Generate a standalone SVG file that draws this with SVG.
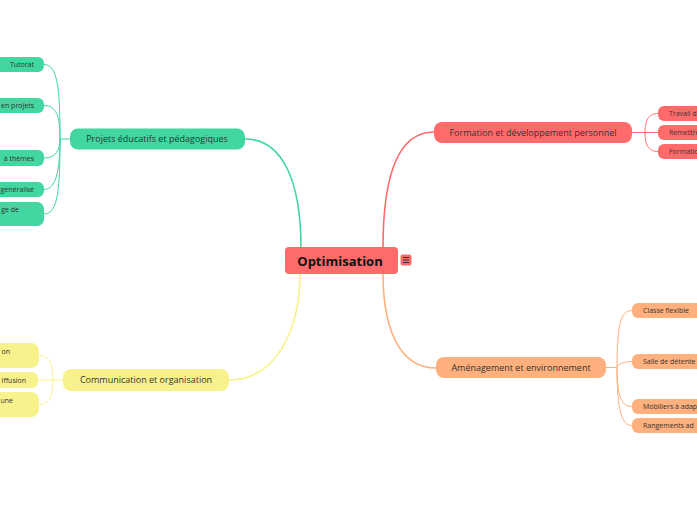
<svg xmlns="http://www.w3.org/2000/svg" width="697" height="520" viewBox="0 0 697 520">
<style>
text{font-family:"Open Sans","Noto Sans","Liberation Sans",sans-serif;fill:#333}
.main{font-size:9px;text-anchor:middle}
.sub{font-size:7px}
.end{text-anchor:end}
.g{fill:#42D6A1}.r{fill:#FF6B6B}.o{fill:#FFB07C}.y{fill:#F8F28C}
.cg,.cr,.co,.cy{fill:none}
.cg{stroke:#42D6A1}.cr{stroke:#FF6B6B}.co{stroke:#FFB07C}.cy{stroke:#F8F28C}
.thick{stroke-width:1.6}.thin{stroke-width:1}
</style>
<rect width="697" height="520" fill="#fff"/>
<g id="connectors">
<path class="cg thick" d="M245,139 C282,139 301,180 301,248"/>
<path class="cr thick" d="M434,132 C400,132 383,170 383,248"/>
<path class="cy thick" d="M229,380 C276,380 300,330 300,273"/>
<path class="co thick" d="M383,273 C383,330 400,368 436,368"/>
<path class="cg thin" d="M60,139 L70,139 M44,64.5 C58,64.5 60,90 60,139 M44,105.5 C56,105.5 60,115 60,139 M44,158 C56,158 60,150 60,139 M44,189.5 C56,189.5 60,170 60,139 M44,214 C58,214 60,190 60,139"/>
<path class="cy thin" d="M53,380 L63,380 M39,355.5 C50,355.5 53,365 53,380 M38,380 L53,380 M39,404.5 C50,404.5 53,395 53,380"/>
<path class="cr thin" d="M632,132.5 L645,132.5 M645,132.5 C645,118 650,113.5 658,113.5 M645,132.5 L658,132.5 M645,132.5 C645,147 650,151.5 658,151.5"/>
<path class="co thin" d="M606,367.5 L617,367.5 M617,367.5 C617,320 622,310.5 632,310.5 M617,367.5 C617,364 624,361.5 632,361.5 M617,367.5 C617,398 622,406.5 632,406.5 M617,367.5 C617,412 622,425.5 632,425.5"/>
</g>
<g id="center">
<rect x="285" y="247" width="113" height="27" rx="4" class="r"/>
<text x="340" y="266" style="font-size:13px;font-weight:bold;text-anchor:middle;fill:#111">Optimisation</text>
<rect x="400.5" y="254.5" width="11" height="11" rx="2" class="r"/>
<path d="M403,257.5 H409 M403,260 H409 M403,262.5 H409" stroke="#333" stroke-width="1" fill="none"/>
</g>
<g id="projets">
<rect x="70" y="128.5" width="175" height="21" rx="8" class="g"/>
<text x="157" y="142" class="main">Projets éducatifs et pédagogiques</text>
</g>
<g id="tutorat"><rect x="-20" y="57" width="64" height="15" rx="6" class="g"/><text x="34" y="67" class="sub end">Tutorat</text></g>
<g id="enprojets"><rect x="-20" y="98" width="64" height="15" rx="6" class="g"/><text x="34" y="108" class="sub end">en projets</text></g>
<g id="themes"><rect x="-20" y="150" width="64" height="16" rx="6" class="g"/><text x="34" y="160.5" class="sub end">à thèmes</text></g>
<g id="generalise"><rect x="-20" y="182" width="64" height="15" rx="6" class="g"/><text x="34" y="192" class="sub end">généralisé</text></g>
<g id="gede"><rect x="-20" y="202" width="64" height="24" rx="7" class="g"/><text x="19" y="212" class="sub end">ge de</text></g>
<g id="communication">
<rect x="63" y="369" width="166" height="22" rx="8" class="y"/>
<text x="146" y="383" class="main">Communication et organisation</text>
</g>
<g id="yon"><rect x="-20" y="343" width="59" height="25" rx="8" class="y"/><text x="10" y="353.5" class="sub end">on</text></g>
<g id="ydiffusion"><rect x="-20" y="372" width="58" height="16" rx="6" class="y"/><text x="26" y="382.5" class="sub end">iffusion</text></g>
<g id="yune"><rect x="-20" y="392" width="59" height="25" rx="8" class="y"/><text x="13" y="402.5" class="sub end">une</text></g>
<g id="formation">
<rect x="434" y="122" width="198" height="21" rx="8" class="r"/>
<text x="533" y="135.5" class="main">Formation et développement personnel</text>
</g>
<g id="travail"><rect x="658" y="106" width="60" height="15" rx="6" class="r"/><text x="669" y="116" class="sub">Travail d</text></g>
<g id="remettre"><rect x="658" y="125" width="60" height="15" rx="6" class="r"/><text x="669" y="135" class="sub">Remettre</text></g>
<g id="formatio"><rect x="658" y="144" width="60" height="15" rx="6" class="r"/><text x="669" y="154" class="sub">Formatio</text></g>
<g id="amenagement">
<rect x="436" y="357" width="170" height="21" rx="8" class="o"/>
<text x="521" y="370.5" class="main">Aménagement et environnement</text>
</g>
<g id="classe"><rect x="632" y="303" width="90" height="15" rx="6" class="o"/><text x="643" y="313" class="sub">Classe flexible</text></g>
<g id="salle"><rect x="632" y="354" width="90" height="15" rx="6" class="o"/><text x="643" y="364" class="sub">Salle de détente</text></g>
<g id="mobiliers"><rect x="632" y="399" width="90" height="15" rx="6" class="o"/><text x="643" y="409" class="sub">Mobiliers à adap</text></g>
<g id="rangements"><rect x="632" y="418" width="90" height="15" rx="6" class="o"/><text x="643" y="428" class="sub">Rangements ad</text></g>
</svg>
